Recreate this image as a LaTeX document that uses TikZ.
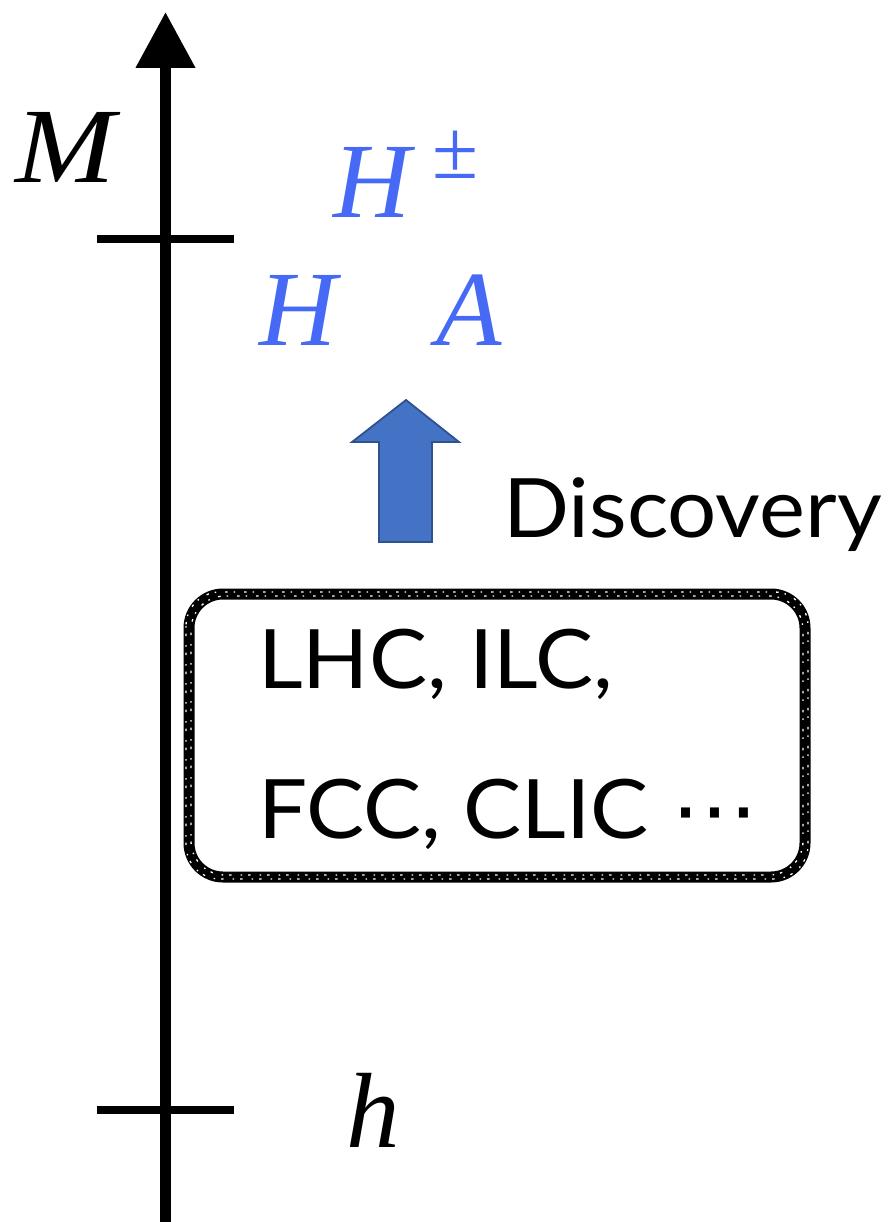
\documentclass[tikz,border=0pt]{standalone}
\usepackage{fontspec}
\setmainfont{Liberation Serif}
\newfontfamily\sansfont{Lato}
\newfontfamily\symfont{DejaVu Sans}
\usetikzlibrary{arrows.meta}
\definecolor{hblue}{RGB}{70,106,246}
\definecolor{arrfill}{RGB}{68,114,196}
\definecolor{arredge}{RGB}{47,82,143}
\tikzset{
  serifit/.style={inner sep=0pt, anchor=base west, font=\fontsize{107}{107}\selectfont\itshape},
  sanslabel/.style={inner sep=0pt, anchor=base west, font=\fontsize{82}{82}\selectfont\sansfont},
  tickline/.style={line width=8pt},
  chalkbox/.style={line width=11pt, rounded corners=34pt, line join=round},
  chalkspeck/.style={white, line width=1.3pt, rounded corners=34pt, dash pattern=on 1.5pt off 6pt on 2.5pt off 9pt}
}
\begin{document}
\begin{tikzpicture}[x=1pt,y=-1pt]
\useasboundingbox (0,0) rectangle (891,1222);
% axis
\coordinate (axbot) at (165.5,1222);
\coordinate (axtop) at (165.5,12);
\draw[line width=11pt, -{Triangle[length=56pt,width=57pt]}] (axbot) -- (axtop);
% ticks
\coordinate (t1l) at (97,239);
\coordinate (t1r) at (234,239);
\coordinate (t2l) at (97,1110);
\coordinate (t2r) at (234,1110);
\draw[tickline] (t1l) -- (t1r);
\draw[tickline] (t2l) -- (t2r);
% labels
\node[serifit] (M) at (15,183) {\scalebox{1.12}[1]{M}};
\node[serifit, text=hblue] (Hpm) at (333,218) {H\kern 22pt\raisebox{39pt}{\fontsize{84}{84}\selectfont\upshape ±}};
\node[serifit, text=hblue] (H) at (259,345) {H};
\node[serifit, text=hblue] (A) at (436,345) {A};
\node[serifit] (h) at (346,1147) {h};
% blue block arrow
\filldraw[fill=arrfill, draw=arredge, line width=1.8pt, line join=miter]
  (406,400) -- (459,442) -- (432,442) -- (432,542) -- (379,542) -- (379,442) -- (352,442) -- cycle;
\node[sanslabel] (disc) at (503,537) {\scalebox{1.06}[1]{Discovery}};
% chalk box
\draw[chalkbox] (189,594) rectangle (805,877);
\draw[chalkspeck] (186,592) rectangle (808,879);
\draw[chalkspeck, dash phase=5pt] (191,596) rectangle (803,875);
\node[sanslabel] (l1) at (258,688) {\scalebox{1.06}[1]{LHC, ILC,}};
\node[sanslabel] (l2) at (258,838) {\scalebox{1.06}[1]{FCC, CLIC {\symfont ⋯}}};
\end{tikzpicture}
\end{document}
